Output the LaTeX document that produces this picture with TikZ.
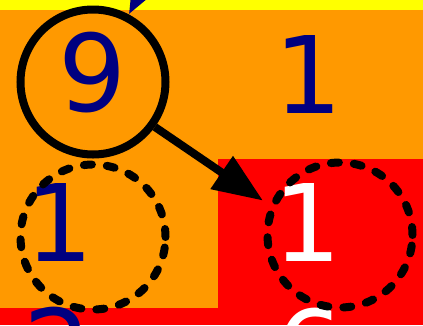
\documentclass[tikz,border=0pt]{standalone}
\usepackage{fontspec}
\setmainfont{DejaVu Sans}
\usetikzlibrary{arrows.meta}
\definecolor{cellyellow}{RGB}{255,255,0}
\definecolor{cellorange}{RGB}{255,153,0}
\definecolor{cellred}{RGB}{255,0,0}
\definecolor{digitblue}{RGB}{0,0,128}

\begin{document}
\begin{tikzpicture}[x=1pt,y=-1pt,
    digit/.style={inner sep=0pt,font=\fontsize{107}{107}\selectfont},
    ring/.style={circle,draw=black,line width=8pt,minimum size=145pt,inner sep=0pt},
    dashring/.style={ring,dash pattern=on 8pt off 15pt,line cap=round},
    link/.style={line width=8pt,-{Triangle[length=50pt,width=38pt]}}]
    \useasboundingbox (0,0) rectangle (423,325);
    \clip (0,0) rectangle (423,325);
    % cells
    \fill[cellyellow] (0,0) rectangle (423,10);
    \fill[cellorange] (0,10) rectangle (423,159);
    \fill[cellorange] (0,159) rectangle (218,308);
    \fill[cellred] (218,159) rectangle (423,325);
    \fill[cellred] (0,308) rectangle (218,325);
    % values
    \node[digit,digitblue] (v9) at (93,73) {9};
    \node[digit,digitblue] (vtop) at (309,74) {1};
    \node[digit,digitblue] (vleft) at (60,222) {1};
    \node[digit,white] (vright) at (308,222) {1};
    \node[digit,digitblue] (vtwo) at (58,347) {2};
    \node[digit,white] (vsix) at (310,349) {6};
    % rings
    \node[ring] (c9) at (93,82) {};
    \node[dashring] (cl) at (93,237) {};
    \node[dashring] (cr) at (340,235) {};
    \coordinate (parent) at (200,-120);
    \draw[link,digitblue] (parent) -- (c9);
    \draw[link,shorten >=8pt] (c9.-36) -- (cr.157);
\end{tikzpicture}
\end{document}
